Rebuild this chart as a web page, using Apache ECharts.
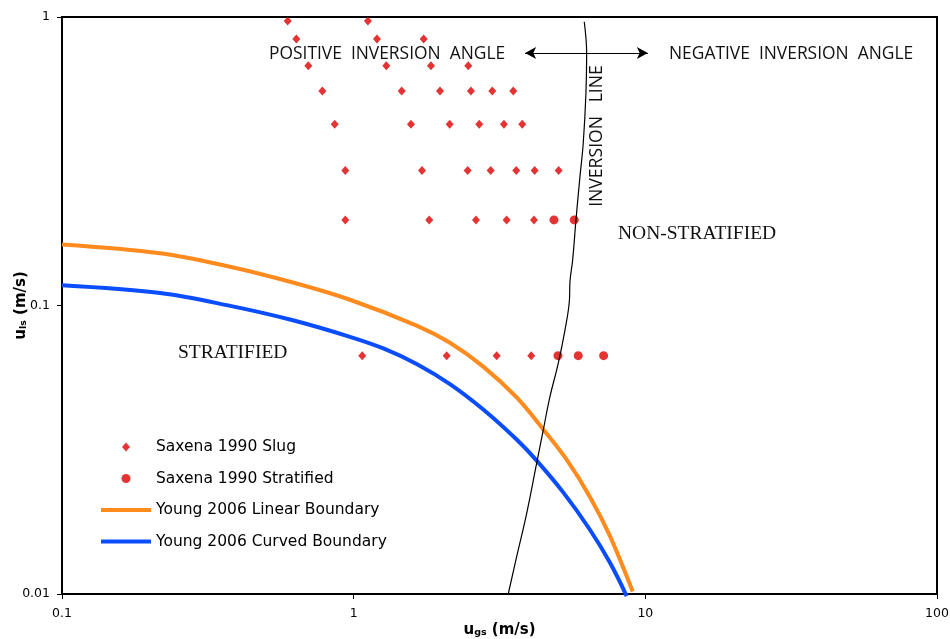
<!DOCTYPE html>
<html>
<head>
<meta charset="utf-8">
<script src="https://cdn.jsdelivr.net/npm/echarts@6/dist/echarts.min.js"></script>
<style>
  html, body { margin: 0; padding: 0; background: #fff; }
  #chart { width: 950px; height: 639px; }
</style>
</head>
<body>
<div id="chart"></div>
<script>
// Flow-pattern map: superficial gas velocity vs. superficial liquid velocity (log-log)

// Saxena 1990 slug-flow observations [u_gs, u_ls]
const slugPoints = [
  [0.594, 0.968], [1.119, 0.968],
  [0.636, 0.839], [1.202, 0.839], [1.738, 0.839],
  [0.699, 0.678], [1.294, 0.678], [1.841, 0.678], [2.471, 0.678],
  [0.781, 0.554], [1.461, 0.554], [1.977, 0.554], [2.524, 0.554], [2.987, 0.554], [3.525, 0.554],
  [0.861, 0.425], [1.572, 0.425], [2.134, 0.425], [2.695, 0.425], [3.275, 0.425], [3.784, 0.425],
  [0.936, 0.294], [1.715, 0.294], [2.459, 0.294], [2.950, 0.294], [3.609, 0.294], [4.174, 0.294], [5.044, 0.294],
  [0.936, 0.198], [1.816, 0.198], [2.626, 0.198], [3.345, 0.198], [4.151, 0.198],
  [1.070, 0.067], [2.084, 0.067], [3.092, 0.067], [4.063, 0.067]
];

// Saxena 1990 stratified-flow observations [u_gs, u_ls]
const stratifiedPoints = [
  [4.861, 0.198], [5.706, 0.198],
  [5.016, 0.067], [5.888, 0.067], [7.194, 0.067]
];

// Young 2006 linear boundary [u_gs, u_ls]
const linearBoundary = [
  [0.1, 0.1627], [0.217, 0.1517], [0.367, 0.1370], [0.619, 0.1201], [0.971, 0.1047],
  [1.644, 0.0852], [2.138, 0.0743], [2.782, 0.0614], [3.621, 0.0480], [4.467, 0.0372],
  [5.374, 0.0292], [6.458, 0.0217], [7.559, 0.0159], [9.05, 0.0102]
];

// Young 2006 curved boundary [u_gs, u_ls]
const curvedBoundary = [
  [0.1, 0.1175], [0.217, 0.1104], [0.367, 0.1003], [0.619, 0.0889], [0.971, 0.0779],
  [1.264, 0.0710], [1.644, 0.0627], [2.138, 0.0534], [2.782, 0.0436], [3.621, 0.0343],
  [4.241, 0.0290], [5.231, 0.0225], [6.458, 0.0167], [7.559, 0.01285], [8.63, 0.00984]
];

// Inversion line [u_gs, u_ls]
const inversionLine = [
  [6.174, 0.963], [6.292, 0.748], [6.257, 0.544], [6.125, 0.365], [5.968, 0.2796],
  [5.783, 0.1979], [5.634, 0.1438], [5.515, 0.1207], [5.493, 0.1045], [5.302, 0.0822],
  [5.028, 0.0630], [4.710, 0.0483], [4.467, 0.0370], [4.241, 0.0284], [3.918, 0.0190],
  [3.621, 0.01347], [3.388, 0.0100]
];

// Double-headed arrow separating the inversion-angle regions
const arrowSpan = [3.87, 10.2];
const arrowLevel = 0.75;

const seriesNames = ['Saxena 1990 Slug', 'Saxena 1990 Stratified', 'Young 2006 Linear Boundary', 'Young 2006 Curved Boundary'];

const RED = '#dc0000';
const ORANGE = '#ff8b1f';
const BLUE = '#0a4dff';
const AXIS_FONT = 'DejaVu Sans';
const DIAMOND_ICON = 'path://M4,0L8,4.5L4,9L0,4.5Z';

function tickText(v) {
  return String(parseFloat(Number(v).toPrecision(6)));
}

const richTitle = {
  b: { fontFamily: AXIS_FONT, fontWeight: 'bold', fontSize: 15, color: '#000' },
  s: { fontFamily: AXIS_FONT, fontWeight: 'bold', fontSize: 9.5, color: '#000', verticalAlign: 'bottom', lineHeight: 12 }
};

const chart = echarts.init(document.getElementById('chart'), null, { renderer: 'canvas' });

chart.setOption({
  animation: false,
  backgroundColor: '#fff',
  grid: {
    left: 62, right: 13, top: 17, bottom: 45,
    outerBoundsMode: 'none',
    containLabel: false,
    show: true, borderColor: '#000', borderWidth: 2, backgroundColor: 'transparent'
  },
  xAxis: {
    type: 'log', logBase: 10, min: 0.1, max: 100,
    name: '{b|u}{s|gs}{b| (m/s)}',
    nameLocation: 'middle', nameGap: 29, nameMoveOverlap: false,
    nameTextStyle: { rich: richTitle },
    axisLine: { show: true, lineStyle: { color: '#000', width: 2 } },
    axisTick: { show: true, length: 5, lineStyle: { color: '#000', width: 1 } },
    minorTick: { show: false },
    splitLine: { show: false },
    axisLabel: { color: '#000', fontFamily: AXIS_FONT, fontSize: 12.5, margin: 13, formatter: tickText }
  },
  yAxis: {
    type: 'log', logBase: 10, min: 0.01, max: 1,
    name: '{b|u}{s|ls}{b| (m/s)}',
    nameLocation: 'middle', nameGap: 33, nameRotate: 90, nameMoveOverlap: false,
    nameTextStyle: { rich: richTitle },
    axisLine: { show: true, lineStyle: { color: '#000', width: 2 } },
    axisTick: { show: true, length: 5, lineStyle: { color: '#000', width: 1 } },
    minorTick: { show: false },
    splitLine: { show: false },
    axisLabel: { color: '#000', fontFamily: AXIS_FONT, fontSize: 12.5, margin: 12, formatter: tickText }
  },
  legend: {
    data: [
      { name: seriesNames[0], icon: DIAMOND_ICON, symbolKeepAspect: true },
      { name: seriesNames[1], icon: 'circle' },
      { name: seriesNames[2], itemStyle: { color: 'rgba(0,0,0,0)', borderWidth: 0 }, lineStyle: { width: 4 } },
      { name: seriesNames[3], itemStyle: { color: 'rgba(0,0,0,0)', borderWidth: 0 }, lineStyle: { width: 4 } }
    ],
    orient: 'vertical',
    left: 94, top: 434,
    itemWidth: 50, itemHeight: 9, itemGap: 15.5,
    symbolKeepAspect: true,
    selectedMode: false,
    textStyle: { fontFamily: AXIS_FONT, fontSize: 15.5, color: '#000' }
  },
  series: [
    {
      name: seriesNames[0], type: 'scatter', data: slugPoints,
      symbol: 'diamond', symbolSize: [8, 9],
      itemStyle: { color: RED }, z: 3
    },
    {
      name: seriesNames[1], type: 'scatter', data: stratifiedPoints,
      symbol: 'circle', symbolSize: 9,
      itemStyle: { color: RED }, z: 3
    },
    {
      name: seriesNames[2], type: 'line', data: linearBoundary,
      smooth: 0.35, symbol: 'none', clip: false,
      lineStyle: { color: ORANGE, width: 4 }, itemStyle: { color: ORANGE }, z: 4
    },
    {
      name: seriesNames[3], type: 'line', data: curvedBoundary,
      smooth: 0.35, symbol: 'none', clip: false,
      lineStyle: { color: BLUE, width: 4 }, itemStyle: { color: BLUE }, z: 4
    },
    {
      name: 'Inversion line', type: 'line', data: inversionLine,
      smooth: 0.4, symbol: 'none',
      lineStyle: { color: '#000', width: 1.2 }, itemStyle: { color: '#000' }, z: 5,
      markLine: {
        silent: true, animation: false,
        symbol: ['arrow', 'arrow'], symbolSize: [9, 11],
        lineStyle: { color: '#000', width: 1.2, type: 'solid' },
        label: { show: false },
        data: [[{ coord: [arrowSpan[0], arrowLevel] }, { coord: [arrowSpan[1], arrowLevel] }]]
      }
    }
  ],
  graphic: [
    {
      type: 'text', x: 269, y: 54, silent: true,
      style: { text: 'POSITIVE  INVERSION  ANGLE', font: '17.4px "Open Sans"', fill: '#111', align: 'left', verticalAlign: 'middle' }
    },
    {
      type: 'text', x: 669, y: 54, silent: true,
      style: { text: 'NEGATIVE  INVERSION  ANGLE', font: '17.4px "Open Sans"', fill: '#111', align: 'left', verticalAlign: 'middle' }
    },
    {
      type: 'text', x: 597, y: 136, rotation: Math.PI / 2, silent: true,
      style: { text: 'INVERSION   LINE', font: '17.6px "Open Sans"', fill: '#111', align: 'center', verticalAlign: 'middle' }
    },
    {
      type: 'text', x: 618, y: 234, silent: true,
      style: { text: 'NON-STRATIFIED', font: '19.5px "Liberation Serif"', fill: '#111', align: 'left', verticalAlign: 'middle' }
    },
    {
      type: 'text', x: 178, y: 353, silent: true,
      style: { text: 'STRATIFIED', font: '19.5px "Liberation Serif"', fill: '#111', align: 'left', verticalAlign: 'middle' }
    }
  ]
});
</script>
</body>
</html>
